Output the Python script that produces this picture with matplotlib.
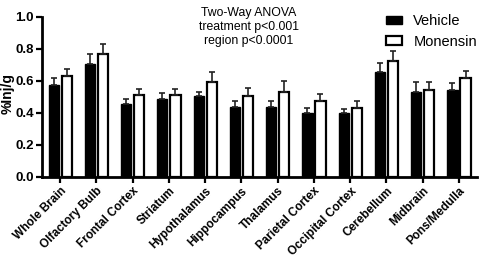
import matplotlib
matplotlib.use("Agg")
import matplotlib.pyplot as plt
import numpy as np

regions = ["Whole Brain", "Olfactory Bulb", "Frontal Cortex", "Striatum", "Hypothalamus",
           "Hippocampus", "Thalamus", "Parietal Cortex", "Occipital Cortex", "Cerebellum",
           "Midbrain", "Pons/Medulla"]
vehicle = [0.574, 0.704, 0.455, 0.485, 0.505, 0.434, 0.434, 0.397, 0.397, 0.654, 0.532, 0.543]
vehicle_err = [0.046, 0.062, 0.031, 0.037, 0.027, 0.042, 0.040, 0.035, 0.025, 0.056, 0.059, 0.042]
monensin = [0.632, 0.766, 0.512, 0.510, 0.595, 0.505, 0.532, 0.476, 0.432, 0.725, 0.543, 0.620]
monensin_err = [0.040, 0.063, 0.039, 0.037, 0.062, 0.048, 0.065, 0.042, 0.044, 0.064, 0.048, 0.042]
yticks = [0.0, 0.2, 0.4, 0.6, 0.8, 1.0]

plt.rcParams['font.family'] = ['Liberation Sans', 'DejaVu Sans']

fig = plt.figure(figsize=(4.84, 2.61), dpi=100)
ax = fig.add_axes([0.0868, 0.323, 0.899, 0.612])

x = np.arange(len(regions))
w = 0.28
off = 0.18
ekw = dict(elinewidth=1.2, capthick=1.2, ecolor='#222222')
ax.bar(x - off, vehicle, w, color='black', edgecolor='black', linewidth=1.0,
       yerr=[np.zeros(len(x)), vehicle_err], capsize=2.5, error_kw=ekw, label='Vehicle', zorder=2)
ax.bar(x + off, monensin, w, color='white', edgecolor='black', linewidth=1.6,
       yerr=[np.zeros(len(x)), monensin_err], capsize=2.5, error_kw=ekw, label='Monensin', zorder=2)

ax.set_xlim(-0.5, 11.5)
ax.set_ylim(0, 1.0)
ax.set_yticks(yticks)
ax.set_yticklabels([f"{t:.1f}" for t in yticks], fontweight='bold', fontsize=9.5)
ax.set_xticks(x)
ax.set_xticklabels(regions, rotation=45, ha='right', rotation_mode='anchor',
                   fontweight='bold', fontsize=8.5)
ax.set_ylabel("%Inj/g", fontweight='bold', fontsize=10, ha='center', va='center')
ax.yaxis.set_label_coords(-0.079, 0.52)

for s in ['top', 'right']:
    ax.spines[s].set_visible(False)
for s in ['left', 'bottom']:
    ax.spines[s].set_linewidth(2)
ax.tick_params(axis='both', width=1.6, length=4, direction='out', pad=2)

ax.text(0.475, 1.065, "Two-Way ANOVA\ntreatment p<0.001\nregion p<0.0001",
        transform=ax.transAxes, ha='center', va='top', fontsize=8.8, linespacing=1.25)

ax.legend(loc='upper right', bbox_to_anchor=(1.03, 1.1), frameon=False, fontsize=10.5,
          handlelength=1.1, handleheight=0.55, labelspacing=0.45, handletextpad=0.8)

fig.savefig("out.png", dpi=100)
